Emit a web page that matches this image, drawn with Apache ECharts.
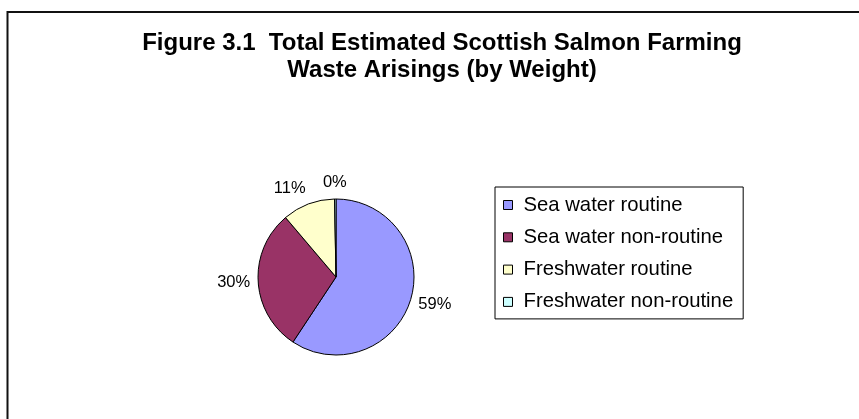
<!DOCTYPE html>
<html>
<head>
<meta charset="utf-8">
<script src="https://cdn.jsdelivr.net/npm/echarts@6/dist/echarts.min.js"></script>
<style>
  html, body { margin: 0; padding: 0; background: #fff; }
  #chart { width: 859px; height: 419px; }
</style>
</head>
<body>
<div id="chart"></div>
<script>
// Waste arisings by source, share of total weight (%)
const categories = ['Sea water routine', 'Sea water non-routine', 'Freshwater routine', 'Freshwater non-routine'];
const shares = [59.3, 29.5, 10.9, 0.3];
const colors = ['#9999FF', '#993366', '#FFFFCC', '#CCFFFF'];
const titleText = 'Figure 3.1  Total Estimated Scottish Salmon Farming\nWaste Arisings (by Weight)';

const FONT = '"Liberation Sans", Arial, Helvetica, sans-serif';
const PIE_CENTER = [336, 277];
const PIE_RADIUS = 78;
const LABEL_GAP = 8;

// mid-angle of every slice, measured clockwise from 12 o'clock
const total = shares.reduce((a, b) => a + b, 0);
const midAngles = [];
let acc = 0;
shares.forEach(v => {
  midAngles.push((acc + v / 2) / total * Math.PI * 2);
  acc += v;
});

const clamp = (v, lo, hi) => Math.max(lo, Math.min(hi, v));

const chart = echarts.init(document.getElementById('chart'), null, { renderer: 'canvas' });

chart.setOption({
  animation: false,
  backgroundColor: '#ffffff',
  title: {
    text: titleText,
    left: 442,
    top: 30,
    padding: 0,
    textAlign: 'center',
    textStyle: {
      fontFamily: FONT,
      fontSize: 24,
      fontWeight: 'bold',
      lineHeight: 27,
      color: '#000'
    }
  },
  graphic: [{
    // outer chart frame, open to the right and bottom
    type: 'rect',
    silent: true,
    z: -1,
    shape: { x: 7.5, y: 12, width: 900, height: 500 },
    style: { fill: 'none', stroke: '#111', lineWidth: 2 }
  }],
  legend: {
    orient: 'vertical',
    left: 495,
    top: 187,
    padding: [8, 10, 7, 8],
    itemGap: 12.3,
    itemWidth: 9,
    itemHeight: 9,
    icon: 'rect',
    borderColor: '#000',
    borderWidth: 1,
    backgroundColor: '#fff',
    itemStyle: { borderColor: '#000', borderWidth: 1 },
    textStyle: {
      fontFamily: FONT,
      fontSize: 20.3,
      lineHeight: 20,
      color: '#000',
      padding: [0, 0, 0, 6]
    },
    data: categories
  },
  series: [{
    type: 'pie',
    center: PIE_CENTER,
    radius: PIE_RADIUS,
    startAngle: 90,
    clockwise: true,
    avoidLabelOverlap: false,
    percentPrecision: 0,
    itemStyle: { borderColor: '#000', borderWidth: 1 },
    label: {
      show: true,
      position: 'outside',
      formatter: '{d}%',
      fontFamily: FONT,
      fontSize: 16.5,
      color: '#000'
    },
    labelLine: { show: false, length: 6, length2: 0 },
    // place each label box just outside the rim along its slice's mid-angle;
    // the box swings fully to the slice's side except near the vertical
    labelLayout: function (params) {
      const a = midAngles[params.dataIndex];
      const ux = Math.sin(a), uy = -Math.cos(a);
      const w = params.labelRect.width, h = params.labelRect.height;
      const d = PIE_RADIUS + LABEL_GAP;
      return {
        x: PIE_CENTER[0] + ux * d + clamp(3 * ux, -1, 1) * w / 2,
        y: PIE_CENTER[1] + uy * d + uy * h / 2,
        align: 'center',
        verticalAlign: 'middle'
      };
    },
    emphasis: { disabled: true },
    data: categories.map((name, i) => ({
      name: name,
      value: shares[i],
      itemStyle: { color: colors[i] }
    }))
  }]
});
</script>
</body>
</html>
